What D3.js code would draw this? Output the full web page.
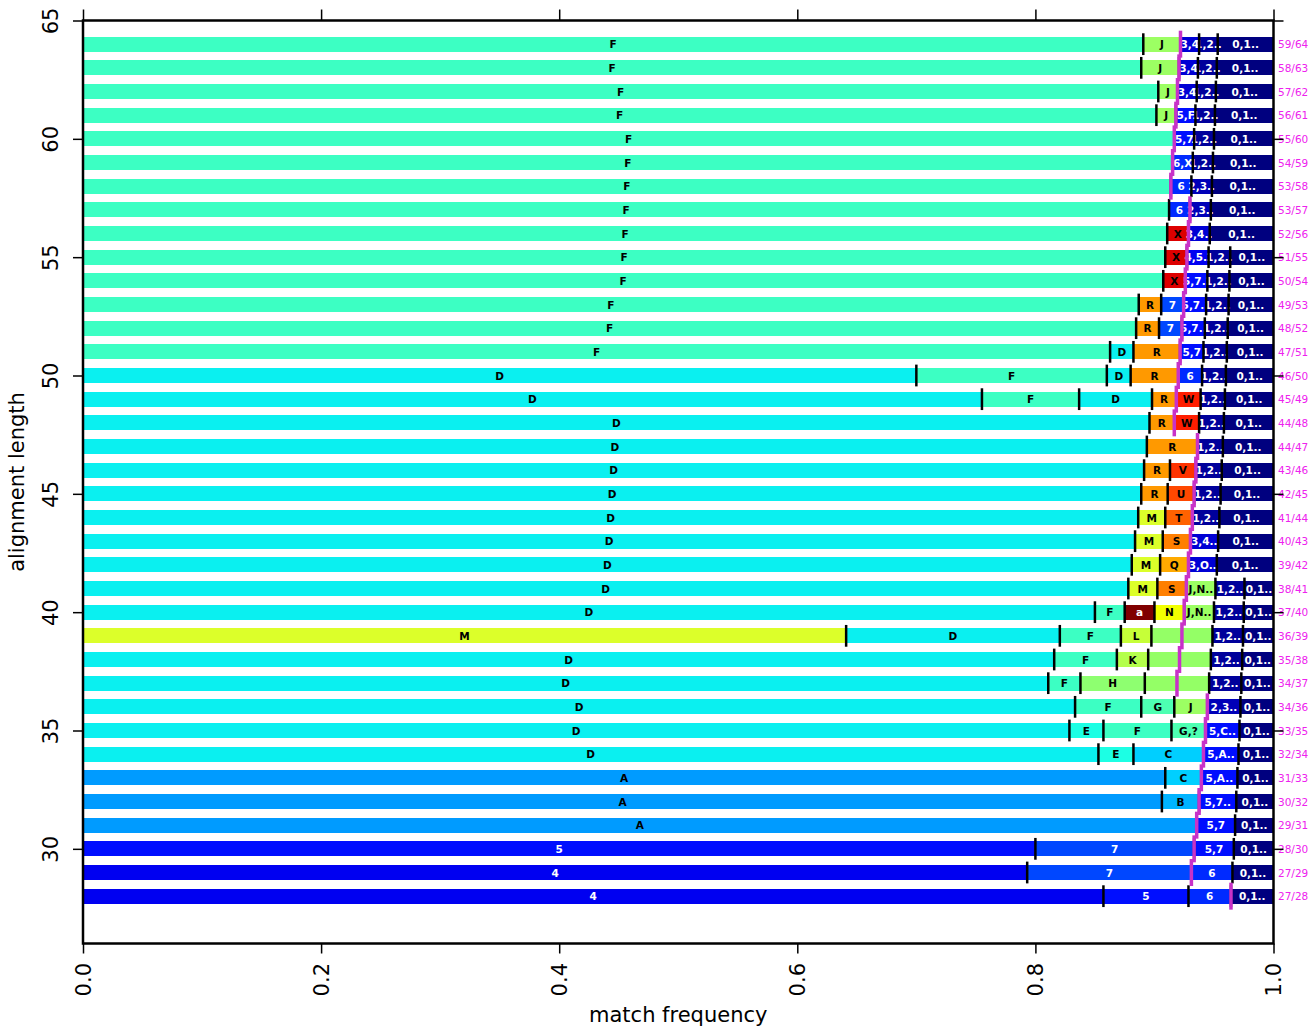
<!DOCTYPE html>
<html><head><meta charset="utf-8">
<script src="https://cdn.jsdelivr.net/npm/d3@7"></script>
<style>body{margin:0;background:#fff} svg{display:block}</style>
</head><body>
<svg id="chart" width="1311" height="1030"></svg>
<script>
// ---- data ----
const lengths = [64,63,62,61,60,59,58,57,56,55,54,53,52,51,50,49,48,47,46,45,44,43,42,41,40,39,38,37,36,35,34,33,32,31,30,29,28];
const matchCounts = [59,58,57,56,55,54,53,53,52,51,50,49,48,47,46,45,44,44,43,42,41,40,39,38,37,36,35,34,34,33,32,31,30,29,28,27,27];
const segmentLabels = [
  ["F","J","3,4","1,2..","0,1.."],
  ["F","J","3,4","1,2..","0,1.."],
  ["F","J","3,4","1,2..","0,1.."],
  ["F","J","5,F","1,2..","0,1.."],
  ["F","5,7","1,2..","0,1.."],
  ["F","6,X","1,2..","0,1.."],
  ["F","6","2,3..","0,1.."],
  ["F","6","2,3..","0,1.."],
  ["F","X","3,4..","0,1.."],
  ["F","X","4,5..","1,2..","0,1.."],
  ["F","X","5,7..","1,2..","0,1.."],
  ["F","R","7","5,7..","1,2..","0,1.."],
  ["F","R","7","5,7..","1,2..","0,1.."],
  ["F","D","R","5,7","1,2..","0,1.."],
  ["D","F","D","R","6","1,2..","0,1.."],
  ["D","F","D","R","W","1,2..","0,1.."],
  ["D","R","W","1,2..","0,1.."],
  ["D","R","1,2..","0,1.."],
  ["D","R","V","1,2..","0,1.."],
  ["D","R","U","1,2..","0,1.."],
  ["D","M","T","1,2..","0,1.."],
  ["D","M","S","3,4..","0,1.."],
  ["D","M","Q","3,O..","0,1.."],
  ["D","M","S","J,N..","1,2..","0,1.."],
  ["D","F","a","N","J,N..","1,2..","0,1.."],
  ["M","D","F","L","","1,2..","0,1.."],
  ["D","F","K","","1,2..","0,1.."],
  ["D","F","H","","1,2..","0,1.."],
  ["D","F","G","J","2,3..","0,1.."],
  ["D","E","F","G,?","5,C..","0,1.."],
  ["D","E","C","5,A..","0,1.."],
  ["A","C","5,A..","0,1.."],
  ["A","B","5,7..","0,1.."],
  ["A","5,7","0,1.."],
  ["5","7","5,7","0,1.."],
  ["4","7","6","0,1.."],
  ["4","5","6","0,1.."]
];
const segmentCounts = [
  [57,2,1,1,3],
  [56,2,1,1,3],
  [56,1,1,1,3],
  [55,1,1,1,3],
  [55,1,1,3],
  [54,1,1,3],
  [53,1,1,3],
  [52,1,1,3],
  [51,1,1,3],
  [50,1,1,1,2],
  [49,1,1,1,2],
  [47,1,1,1,1,2],
  [46,1,1,1,1,2],
  [44,1,2,1,1,2],
  [35,8,1,2,1,1,2],
  [37,4,3,1,1,1,2],
  [43,1,1,1,2],
  [42,2,1,2],
  [41,1,1,1,2],
  [40,1,1,1,2],
  [39,1,1,1,2],
  [38,1,1,1,2],
  [37,1,1,1,2],
  [36,1,1,1,1,1],
  [34,1,1,1,1,1,1],
  [25,7,2,1,2,1,1],
  [31,2,1,2,1,1],
  [30,1,2,2,1,1],
  [30,2,1,1,1,1],
  [29,1,2,1,1,1],
  [29,1,2,1,1],
  [30,1,1,1],
  [29,1,1,1],
  [29,1,1],
  [24,4,1,1],
  [23,4,1,1],
  [24,2,1,1]
];
const xTicks = [0,0.2,0.4,0.6,0.8,1.0];
const xTickLabels = ["0.0","0.2","0.4","0.6","0.8","1.0"];
const yTicks = [30,35,40,45,50,55,60,65];
const yTickLabels = ["30","35","40","45","50","55","60","65"];
const symbolColors = {
  "0":"#00007F","1":"#00009B","2":"#0000B8","3":"#0000D4","4":"#0000F1",
  "5":"#000EFF","6":"#002AFF","7":"#0047FF",
  "A":"#009BFF","B":"#00B4FF","C":"#00CFFF","D":"#0AF0F0","E":"#1CFFE4",
  "F":"#3CFFC3","G":"#4DFFB2","H":"#8EFF70","J":"#9CFF63","K":"#B4FF4B",
  "L":"#C6FF38","M":"#DCFF2A","N":"#F2FF00","Q":"#FFAA00","R":"#FF9900",
  "S":"#FF7F00","T":"#FF6200","U":"#FF4800","V":"#FF3300","W":"#FF1E00",
  "X":"#DD0000","a":"#800000","":"#94FF66"
};

// ---- drawing ----
const svg = d3.select("#chart");
const FONT = "DejaVu Sans, Verdana, sans-serif";
const x = d3.scaleLinear().domain([0,1]).range([83,1273.5]);
const y = d3.scaleLinear().domain([26,65]).range([943.5,20.5]);

const rows = lengths.map((n,i)=>{
  let c = 0;
  const segs = segmentCounts[i].map((k,j)=>{
    const s = {label: segmentLabels[i][j], start: c/n, end: (c+k)/n};
    c += k; return s;
  });
  return {n, a: matchCounts[i], segs};
});

const colorOf = l => symbolColors[l === "" ? "" : l[0]] || "#999";
const textColorOf = l => (/^[0-9]/.test(l) || l === "a") ? "#fff" : "#000";

const gBars = svg.append("g");
const gLab = svg.append("g").attr("font-family", FONT).attr("font-weight","bold").attr("font-size", 10.5);
const gMark = svg.append("g");
const gMag = svg.append("g");
const gRight = svg.append("g").attr("font-family", FONT).attr("font-size", 10.5);

const halfBar = 0.315;
rows.forEach(r=>{
  gBars.selectAll(null).data(r.segs).enter().append("rect")
    .attr("x", d=>x(d.start))
    .attr("width", d=>x(d.end)-x(d.start))
    .attr("y", y(r.n+halfBar))
    .attr("height", y(r.n-halfBar)-y(r.n+halfBar))
    .attr("fill", d=>colorOf(d.label))
    .attr("shape-rendering","crispEdges");
  gLab.selectAll(null).data(r.segs.filter(d=>d.label!=="")).enter().append("text")
    .attr("x", d=>x((d.start+d.end)/2))
    .attr("y", y(r.n))
    .attr("dominant-baseline","central")
    .attr("text-anchor","middle")
    .attr("fill", d=>textColorOf(d.label))
    .text(d=>d.label);
  gMark.selectAll(null).data(r.segs.slice(1)).enter().append("line")
    .attr("x1", d=>x(d.start)).attr("x2", d=>x(d.start))
    .attr("y1", y(r.n+0.46)).attr("y2", y(r.n-0.46))
    .attr("stroke","#000").attr("stroke-width",2.5);
  gMag.append("line")
    .attr("x1", x(r.a/r.n)).attr("x2", x(r.a/r.n))
    .attr("y1", y(r.n+0.57)).attr("y2", y(r.n-0.57))
    .attr("stroke","#C832C8").attr("stroke-width",3.5);
  gRight.append("text")
    .attr("x", 1278).attr("y", y(r.n))
    .attr("dominant-baseline","central")
    .attr("fill","#EE22EE")
    .text(`${r.a}/${r.n}`);
});

// frame
svg.append("rect").attr("x",83).attr("y",20.5).attr("width",1190.5).attr("height",923)
  .attr("fill","none").attr("stroke","#000").attr("stroke-width",2.5);

// axes
function styleAxis(g){
  g.select(".domain").remove();
  g.selectAll(".tick line").attr("stroke","#000").attr("stroke-width",1.5);
  g.attr("font-family", FONT).attr("font-size", 21);
}
const gB = svg.append("g").attr("transform",`translate(0,${y(26)})`)
  .call(d3.axisBottom(x).tickValues(xTicks).tickSize(10).tickFormat((d,i)=>xTickLabels[i]));
styleAxis(gB);
gB.selectAll(".tick text").attr("x",null).attr("y",null).attr("dy",null)
  .attr("fill","#000").attr("text-anchor","end")
  .attr("transform","translate(7,19.5) rotate(-90)");

const gL = svg.append("g").attr("transform",`translate(${x(0)},0)`)
  .call(d3.axisLeft(y).tickValues(yTicks).tickSize(10).tickFormat((d,i)=>yTickLabels[i]));
styleAxis(gL);
gL.selectAll(".tick text").attr("x",null).attr("y",null).attr("dy",null)
  .attr("fill","#000").attr("text-anchor","middle")
  .attr("transform","translate(-25,0) rotate(-90)");

const gT = svg.append("g").attr("transform",`translate(0,${y(65)})`)
  .call(d3.axisTop(x).tickValues(xTicks).tickSize(11).tickFormat(""));
styleAxis(gT);
const gR = svg.append("g").attr("transform",`translate(${x(1)},0)`)
  .call(d3.axisRight(y).tickValues(yTicks).tickSize(10).tickFormat(""));
styleAxis(gR);

// titles
svg.append("text").attr("x", (x(0)+x(1))/2).attr("y", 1022)
  .attr("text-anchor","middle").attr("font-family",FONT).attr("font-size",21)
  .text("match frequency");
svg.append("text").attr("transform",`translate(24,${(y(26)+y(65))/2}) rotate(-90)`)
  .attr("text-anchor","middle").attr("font-family",FONT).attr("font-size",21)
  .text("alignment length");
</script>
</body></html>
